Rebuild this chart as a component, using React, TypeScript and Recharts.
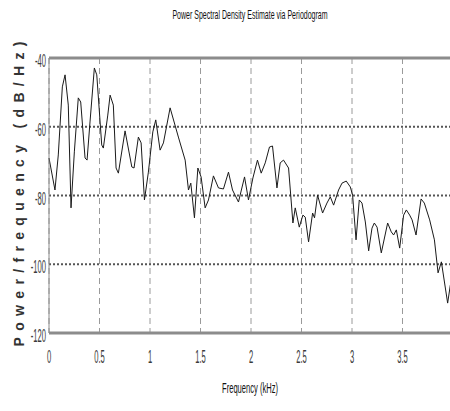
import React from "react";
import { LineChart, Line, XAxis, YAxis, CartesianGrid, ReferenceLine } from "recharts";

const freqKHz = [
  0.0, 0.059, 0.092, 0.132, 0.159, 0.191, 0.218, 0.251, 0.29, 0.314, 0.357, 0.377, 0.406, 0.449, 0.473,
  0.522, 0.538, 0.582, 0.605, 0.637, 0.664, 0.687, 0.753, 0.82, 0.842, 0.885, 0.912, 0.945, 0.984,
  1.028, 1.057, 1.1, 1.133, 1.199, 1.281, 1.348, 1.381, 1.404, 1.44, 1.474, 1.506, 1.546, 1.579,
  1.628, 1.678, 1.727, 1.777, 1.817, 1.876, 1.936, 1.975, 2.019, 2.064, 2.101, 2.141, 2.183, 2.213,
  2.257, 2.289, 2.322, 2.372, 2.415, 2.438, 2.478, 2.514, 2.537, 2.57, 2.61, 2.629, 2.659, 2.709,
  2.752, 2.785, 2.818, 2.867, 2.901, 2.943, 2.983, 3.006, 3.04, 3.072, 3.099, 3.132, 3.165, 3.198,
  3.221, 3.248, 3.29, 3.353, 3.389, 3.412, 3.439, 3.472, 3.511, 3.538, 3.571, 3.595, 3.634, 3.684,
  3.716, 3.769, 3.816, 3.852, 3.885, 3.947, 3.974, 4.0,
];

const psdDbPerHz = [
  -69.1, -78.4, -68.2, -48.4, -44.9, -53.7, -83.6, -67.3, -51.6, -52.8, -69.1, -69.7, -58.6, -42.9, -44.9,
  -65.3, -66.2, -56.6, -50.8, -53.7, -72.0, -73.5, -61.2, -71.7, -72.0, -63.0, -64.7, -81.3, -73.2,
  -61.5, -58.0, -66.8, -64.7, -54.5, -63.0, -69.7, -78.4, -76.4, -86.5, -72.0, -74.6, -83.6, -81.3,
  -74.3, -77.8, -78.1, -73.2, -78.4, -81.9, -74.6, -81.3, -74.9, -69.7, -73.5, -70.5, -65.9, -65.6,
  -77.8, -70.5, -69.7, -72.0, -88.0, -83.6, -89.2, -85.7, -86.3, -93.5, -85.1, -86.5, -79.9, -85.1,
  -82.2, -80.4, -82.8, -78.4, -76.4, -75.8, -77.5, -79.9, -92.9, -81.3, -82.2, -87.7, -96.1, -89.5,
  -88.0, -89.2, -96.7, -88.0, -90.6, -91.5, -90.0, -95.3, -85.7, -84.2, -85.7, -87.1, -91.5, -81.0,
  -82.2, -87.1, -92.9, -102.5, -99.3, -111.3, -106.0, -104.0,
];

const xTicks = [0, 0.5, 1, 1.5, 2, 2.5, 3, 3.5, 4];
const xTickLabels = ["0", "0.5", "1", "1.5", "2", "2.5", "3", "3.5", "4"];
const yTicks = [-120, -100, -80, -60, -40];
const dottedLevels = [-60, -80, -100];
const edgeLevels = [-40, -120];

const titleText = "Power Spectral Density Estimate via Periodogram";
const xLabelText = "Frequency (kHz)";
const yLabelText = "Power/frequency (dB/Hz)";

const data = freqKHz.map((f, i) => ({ f, v: psdDbPerHz[i] }));

const FONT = "'Liberation Sans', Arial, sans-serif";

const XTick = (props: any) => {
  const { x, payload } = props;
  const idx = xTicks.indexOf(payload.value);
  const label = idx >= 0 ? xTickLabels[idx] : String(payload.value);
  return (
    <g transform={`translate(${x},363)`}>
      <text transform="scale(0.4,1)" textAnchor="middle" fontSize={19} fill="#3a3a3a" fontFamily={FONT}>
        {label}
      </text>
    </g>
  );
};

const YTick = (props: any) => {
  const { y, payload } = props;
  return (
    <g transform={`translate(46,${y + 9})`}>
      <text transform="scale(0.4,1)" textAnchor="end" fontSize={19} fill="#3a3a3a" fontFamily={FONT}>
        {String(payload.value)}
      </text>
    </g>
  );
};

export default function App() {
  return (
    <div style={{ position: "absolute", left: 0, top: 0, width: 450, height: 411, overflow: "hidden", background: "#fff" }}>
      <LineChart width={470} height={411} data={data} margin={{ top: 58, right: 17, bottom: 48, left: 0 }}>
        <CartesianGrid horizontal={false} stroke="#9a9a9a" strokeDasharray="6 4" />
        <XAxis
          dataKey="f"
          type="number"
          domain={[0, 4]}
          ticks={xTicks}
          height={30}
          axisLine={false}
          tickLine={false}
          tick={<XTick />}
          interval={0}
        />
        <YAxis
          type="number"
          domain={[-120, -40]}
          ticks={yTicks}
          width={49}
          axisLine={{ stroke: "#8a8a8a", strokeWidth: 1 }}
          tickLine={false}
          tick={<YTick />}
          interval={0}
        />
        {dottedLevels.map((lv) => (
          <ReferenceLine key={lv} y={lv} stroke="#555" strokeWidth={2} strokeDasharray="2 2" />
        ))}
        {edgeLevels.map((lv) => (
          <ReferenceLine key={lv} y={lv} stroke="#8c8c8c" strokeWidth={3} />
        ))}
        <Line
          type="linear"
          dataKey="v"
          stroke="#1a1a1a"
          strokeWidth={1}
          dot={false}
          isAnimationActive={false}
        />
      </LineChart>
      <svg width={450} height={411} style={{ position: "absolute", left: 0, top: 0, pointerEvents: "none" }}>
        <g transform="translate(250,19)">
          <text transform="scale(0.54,1)" x={0} y={0} textAnchor="middle" fontSize={13} fill="#111" fontFamily={FONT}>
            {titleText}
          </text>
        </g>
        <g transform="translate(250,393)">
          <text transform="scale(0.54,1)" x={0} y={0} textAnchor="middle" fontSize={14} fill="#111" fontFamily={FONT}>
            {xLabelText}
          </text>
        </g>
        <text
          transform="translate(24,194) rotate(-90)"
          textAnchor="middle"
          fontSize={14}
          fontWeight="bold"
          fill="#333"
          fontFamily={FONT}
          textLength={305}
          lengthAdjust="spacing"
        >
          {yLabelText}
        </text>
      </svg>
    </div>
  );
}
